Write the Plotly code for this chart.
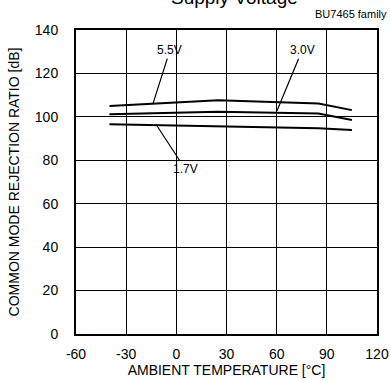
import plotly.graph_objects as go

temps = [-40, 25, 85, 105]
v55 = [105.0, 107.6, 106.1, 103.1]
v30 = [101.2, 102.3, 101.5, 98.6]
v17 = [96.6, 95.7, 94.8, 94.0]

x_ticks = [-60, -30, 0, 30, 60, 90, 120]
y_ticks = [0, 20, 40, 60, 80, 100, 120, 140]

# label text positions and the curve point each leader line reaches
labels = [
    ("5.5V", -3.8, 130.7, -14.0, 106.0),
    ("3.0V", 75.2, 130.7, 60.2, 102.8),
    ("1.7V", 5.2, 76.1, -11.6, 95.9),
]

fig = go.Figure()
for ys in (v55, v30, v17):
    fig.add_trace(go.Scatter(x=temps, y=ys, mode="lines",
                             line=dict(color="black", width=2), showlegend=False))

font = dict(family="Liberation Sans, Arial, sans-serif", color="black")

for txt, tx, ty, px, py in labels:
    fig.add_annotation(x=px, y=py, ax=tx, ay=ty, axref="x", ayref="y",
                       xref="x", yref="y", text=txt, showarrow=True,
                       arrowhead=0, arrowwidth=1.2, arrowcolor="black",
                       font=dict(size=12, **font))

fig.add_annotation(xref="paper", yref="paper", x=0.525, y=1.066, text="Supply Voltage",
                   showarrow=False, font=dict(size=19, **font), xanchor="center",
                   yanchor="bottom")
fig.add_annotation(xref="paper", yref="paper", x=1.04, y=1.052, text="BU7465 family",
                   showarrow=False, font=dict(size=11, **font), xanchor="right",
                   yanchor="middle")

fig.update_layout(
    width=390, height=380,
    margin=dict(l=76, r=13, t=30, b=46),
    paper_bgcolor="white", plot_bgcolor="white",
    font=dict(size=14, **font),
    xaxis=dict(range=[-60, 120], tickvals=x_ticks, ticktext=[str(v) for v in x_ticks],
               showgrid=True, gridcolor="black", gridwidth=1, zeroline=False,
               showline=True, linecolor="black", linewidth=2, mirror=True,
               ticks="", automargin=False, ticklabelstandoff=6,
               title=dict(text="AMBIENT TEMPERATURE [°C]",
                          font=dict(size=14, **font), standoff=3)),
    yaxis=dict(range=[0, 140], tickvals=y_ticks, ticktext=[str(v) for v in y_ticks],
               showgrid=True, gridcolor="black", gridwidth=1, zeroline=False,
               showline=True, linecolor="black", linewidth=2, mirror=True,
               ticks="", automargin=False, ticklabelstandoff=13,
               title=dict(text="COMMON MODE REJECTION RATIO [dB]",
                          font=dict(size=14, **font), standoff=12)),
)

fig.write_html("out.html", post_script="document.body.style.margin='0';",
               config={"displayModeBar": False})
